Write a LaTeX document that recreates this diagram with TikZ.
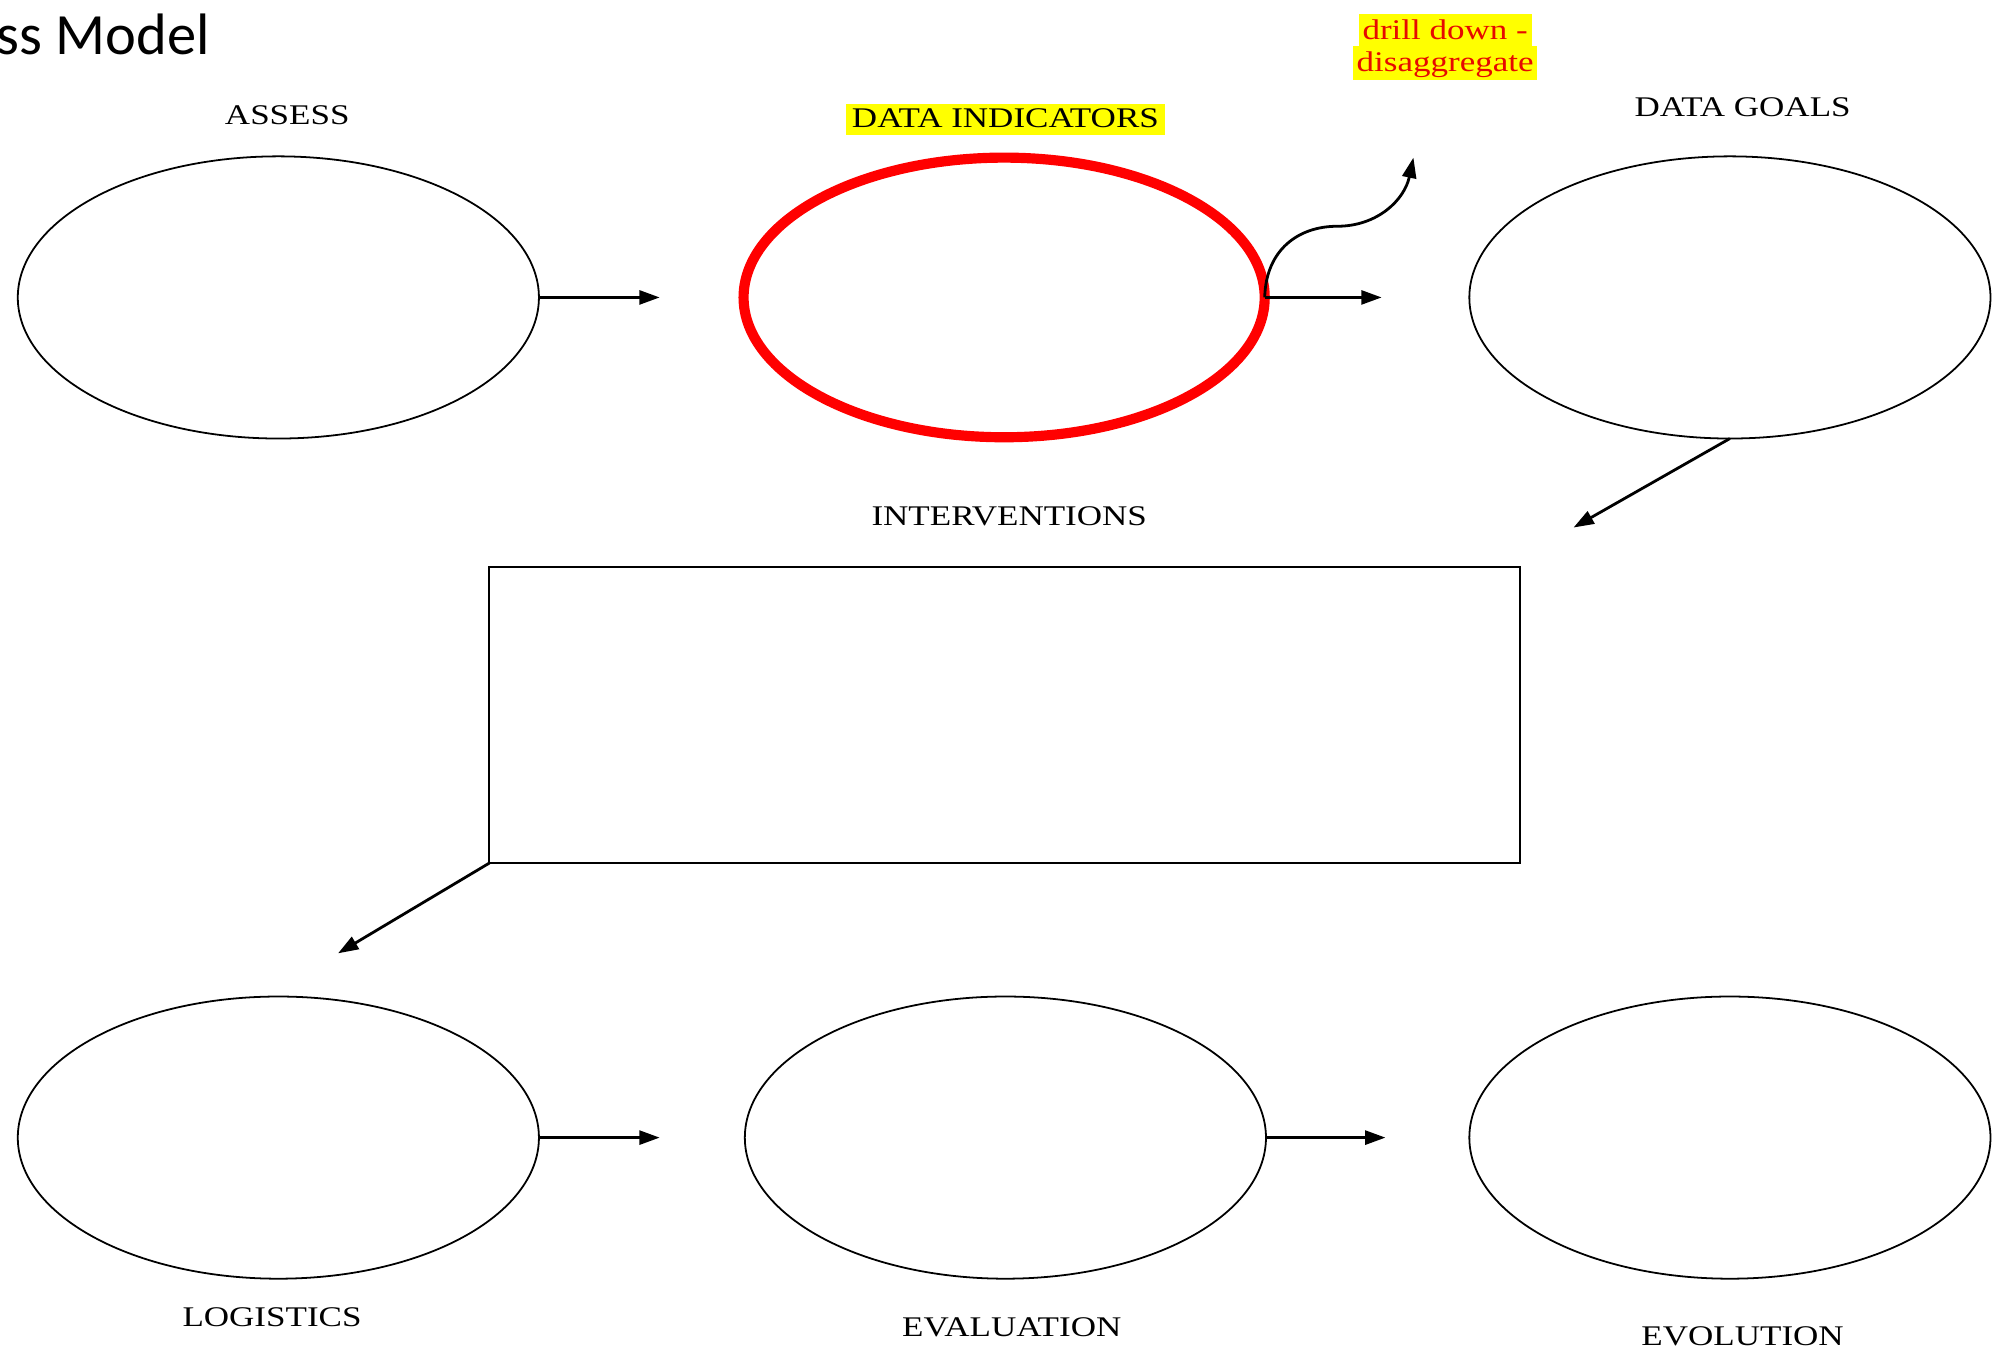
\documentclass[tikz,border=0pt]{standalone}
\usepackage{fontspec}
\usetikzlibrary{shapes.geometric,arrows.meta}
\newfontfamily\labfont[FakeStretch=1.23]{Liberation Serif}
\newfontfamily\titlefont{Carlito}
\definecolor{hlyellow}{RGB}{255,255,0}
\definecolor{ddred}{RGB}{230,10,0}
\definecolor{ringred}{RGB}{255,0,0}
\tikzset{
  oval/.style={ellipse,draw=black,line width=0.7pt,minimum width=205pt,minimum height=111pt,inner sep=0pt,outer sep=0pt},
  ringoval/.style={ellipse,draw=ringred,line width=4pt,minimum width=205pt,minimum height=110pt,inner sep=0pt,outer sep=0pt},
  boxnode/.style={rectangle,draw=black,line width=0.75pt,minimum width=405.5pt,minimum height=116.5pt,inner sep=0pt,outer sep=0pt},
  lab/.style={font=\labfont\fontsize{11.2}{13}\selectfont,inner sep=0pt,text=black},
  hl/.style={fill=hlyellow,inner xsep=2.5pt,inner ysep=0pt,text height=9.5pt,text depth=3pt},
  ddtext/.style={font=\labfont\fontsize{11.2}{13}\selectfont,text=ddred,fill=hlyellow,inner xsep=1.5pt,inner ysep=0pt,text height=10pt,text depth=3.2pt,anchor=base},
  arr/.style={line width=1.1pt,-{Triangle[length=8pt,width=5.5pt]}}
}
\begin{document}
\begin{tikzpicture}[x=0.5pt,y=-0.5pt]
\useasboundingbox (0,0) rectangle (1568,1062);
% title
\node[font=\titlefont\fontsize{23}{27}\selectfont,anchor=base west,inner sep=0pt] (title) at (-3,43) {ss Model};
% ellipses
\node[oval] (assess) at (219,234) {};
\node[ringoval] (ind) at (790,234) {};
\node[oval] (goals) at (1361,234) {};
\node[oval] (logi) at (219,895) {};
\node[oval] (eval) at (791,895) {};
\node[oval] (evol) at (1361,895) {};
% rectangle
\node[boxnode] (interv) at (790.5,562.5) {};
% labels
\node[lab] (lassess) at (226,91) {ASSESS};
\node[lab,hl] (lind) at (791,94) {DATA INDICATORS};
\node[lab] (lgoals) at (1371,84) {DATA GOALS};
\node[lab] (linterv) at (794,406) {INTERVENTIONS};
\node[lab] (llogi) at (214,1036) {LOGISTICS};
\node[lab] (leval) at (796,1044) {EVALUATION};
\node[lab] (levol) at (1371,1051) {EVOLUTION};
\node[ddtext] (dd1) at (1137,31) {drill down -};
\node[ddtext] (dd2) at (1137,56.5) {disaggregate};
% free arrow ends
\coordinate (e1) at (519,234);
\coordinate (e2) at (1087,234);
\coordinate (e3) at (1112,124);
\coordinate (e4) at (1238,415);
\coordinate (e5) at (266,750);
\coordinate (e6) at (519,895);
\coordinate (e7) at (1090,895);
% connectors
\draw[arr] (assess.east) -- (e1);
\draw[arr] (ind.east) -- (e2);
\draw[arr] (ind.east) .. controls (996,196) and (1022,178) .. (1052,178) .. controls (1084,178) and (1105,157) .. (e3);
\draw[arr] (goals.south) -- (e4);
\draw[arr] (interv.south west) -- (e5);
\draw[arr] (logi.east) -- (e6);
\draw[arr] (eval.east) -- (e7);
\end{tikzpicture}
\end{document}
